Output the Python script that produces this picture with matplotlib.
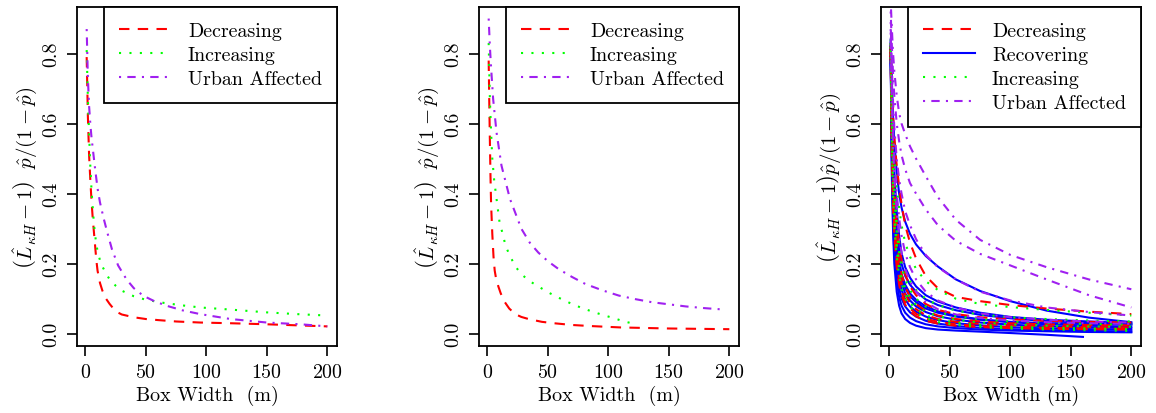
import matplotlib
matplotlib.use("Agg")
import matplotlib.pyplot as plt

plt.rcParams['font.family'] = ['cmr10', 'DejaVu Serif']
plt.rcParams['mathtext.fontset'] = 'cm'
plt.rcParams['axes.formatter.use_mathtext'] = True
plt.rcParams['font.size'] = 14

# panel 1
dec1_x = [1, 2, 3, 4, 5, 6, 7, 8, 9, 10, 12, 14, 17, 20, 25, 30, 40, 50, 60, 75, 95, 120, 150, 175, 200]
dec1_y = [0.79, 0.62, 0.51, 0.44, 0.38, 0.33, 0.29, 0.25, 0.21, 0.18, 0.145, 0.123, 0.10, 0.085, 0.064,
          0.055, 0.047, 0.042, 0.039, 0.035, 0.032, 0.030, 0.027, 0.024, 0.021]
inc1_x = [1, 2, 3, 4, 5, 6, 7, 8, 10, 12, 14, 17, 20, 25, 30, 40, 50, 65, 80, 95, 120, 150, 175, 200]
inc1_y = [0.81, 0.67, 0.57, 0.48, 0.41, 0.36, 0.315, 0.28, 0.235, 0.21, 0.192, 0.172, 0.155, 0.137, 0.123,
          0.107, 0.097, 0.088, 0.081, 0.075, 0.069, 0.061, 0.056, 0.052]
urb1_x = [1, 2, 3, 4, 5, 6, 8, 10, 12, 15, 18, 22, 27, 34, 40, 48, 57, 67, 80, 95, 120, 150, 178, 200]
urb1_y = [0.87, 0.73, 0.65, 0.60, 0.56, 0.53, 0.47, 0.415, 0.375, 0.33, 0.29, 0.24, 0.195, 0.155, 0.13,
          0.108, 0.093, 0.080, 0.067, 0.056, 0.042, 0.032, 0.027, 0.021]

# panel 2
dec2_x = [1, 1.5, 2, 2.5, 3, 4, 5, 6, 7, 9, 11, 14, 18, 23, 28, 34, 45, 55, 70, 85, 110, 150, 200]
dec2_y = [0.78, 0.66, 0.55, 0.45, 0.37, 0.285, 0.22, 0.18, 0.16, 0.135, 0.115, 0.092, 0.072, 0.056, 0.048,
          0.042, 0.034, 0.030, 0.025, 0.022, 0.018, 0.015, 0.013]
inc2_x = [1, 2, 3, 4, 5.5, 7.5, 10, 13, 15, 18.6, 22.7, 28, 35, 43.5, 52, 60, 68, 77, 86, 95, 104, 113, 122]
inc2_y = [0.83, 0.67, 0.575, 0.50, 0.44, 0.385, 0.318, 0.28, 0.25, 0.223, 0.194, 0.17, 0.15, 0.132, 0.115,
          0.101, 0.088, 0.075, 0.064, 0.054, 0.045, 0.035, 0.028]
urb2_x = [1, 2, 3, 4.7, 7.5, 11.6, 18.6, 28, 35, 42, 50, 58.7, 70, 81, 95, 108.6, 122, 136, 150, 164, 180, 196]
urb2_y = [0.90, 0.82, 0.76, 0.67, 0.575, 0.48, 0.385, 0.30, 0.26, 0.232, 0.207, 0.185, 0.162, 0.142, 0.124,
          0.109, 0.099, 0.09, 0.084, 0.078, 0.073, 0.069]

# panel 3
x3 = [1, 2, 3, 4, 6, 8, 10, 13, 17, 22, 30, 40, 55, 75, 100, 130, 165, 200]
rec3 = [
    [0.84, 0.72, 0.62, 0.55, 0.46, 0.40, 0.36, 0.32, 0.285, 0.255, 0.222, 0.192, 0.155, 0.122, 0.093, 0.066, 0.046, 0.033],
    [0.83, 0.66, 0.54, 0.46, 0.35, 0.28, 0.23, 0.19, 0.16, 0.135, 0.11, 0.092, 0.075, 0.060, 0.048, 0.040, 0.035, 0.030],
    [0.82, 0.62, 0.50, 0.41, 0.30, 0.24, 0.20, 0.165, 0.14, 0.12, 0.098, 0.082, 0.067, 0.054, 0.044, 0.036, 0.031, 0.027],
    [0.82, 0.58, 0.45, 0.36, 0.26, 0.20, 0.16, 0.13, 0.107, 0.09, 0.072, 0.060, 0.049, 0.040, 0.034, 0.030, 0.028, 0.026],
    [0.82, 0.60, 0.47, 0.38, 0.27, 0.21, 0.17, 0.14, 0.115, 0.097, 0.078, 0.064, 0.051, 0.041, 0.033, 0.027, 0.023, 0.020],
    [0.81, 0.57, 0.43, 0.34, 0.24, 0.18, 0.145, 0.115, 0.095, 0.078, 0.062, 0.050, 0.040, 0.032, 0.026, 0.021, 0.018, 0.016],
    [0.81, 0.54, 0.40, 0.31, 0.21, 0.16, 0.125, 0.098, 0.078, 0.063, 0.049, 0.039, 0.030, 0.024, 0.019, 0.015, 0.013, 0.011],
    [0.80, 0.50, 0.36, 0.27, 0.18, 0.13, 0.10, 0.078, 0.061, 0.049, 0.037, 0.029, 0.022, 0.017, 0.013, 0.010, 0.008, 0.006],
    [0.80, 0.47, 0.32, 0.23, 0.15, 0.105, 0.08, 0.06, 0.046, 0.036, 0.027, 0.021, 0.016, 0.012, 0.009, 0.007, 0.005, 0.004],
]
rec3_short_x = [1, 2, 3, 4, 6, 8, 10, 13, 17, 22, 30, 40, 55, 75, 100, 130, 160]
rec3_short_y = [0.79, 0.44, 0.29, 0.20, 0.12, 0.08, 0.058, 0.042, 0.031, 0.023, 0.016, 0.012, 0.009, 0.006, 0.002, -0.003, -0.009]
dec3 = [
    [0.83, 0.70, 0.62, 0.56, 0.48, 0.42, 0.37, 0.31, 0.26, 0.215, 0.165, 0.13, 0.105, 0.093, 0.082, 0.072, 0.063, 0.056],
    [0.82, 0.62, 0.50, 0.42, 0.32, 0.26, 0.21, 0.17, 0.135, 0.11, 0.085, 0.068, 0.056, 0.047, 0.041, 0.037, 0.034, 0.032],
    [0.82, 0.58, 0.45, 0.37, 0.27, 0.21, 0.17, 0.135, 0.105, 0.085, 0.065, 0.052, 0.042, 0.035, 0.030, 0.027, 0.025, 0.024],
    [0.81, 0.55, 0.41, 0.33, 0.24, 0.18, 0.145, 0.112, 0.088, 0.07, 0.053, 0.042, 0.034, 0.028, 0.024, 0.021, 0.019, 0.018],
    [0.81, 0.52, 0.38, 0.30, 0.21, 0.155, 0.12, 0.092, 0.072, 0.057, 0.043, 0.034, 0.027, 0.022, 0.019, 0.017, 0.015, 0.014],
    [0.80, 0.50, 0.36, 0.28, 0.19, 0.14, 0.11, 0.083, 0.064, 0.05, 0.037, 0.029, 0.023, 0.019, 0.016, 0.014, 0.013, 0.012],
]
inc3 = [
    [0.84, 0.68, 0.58, 0.51, 0.42, 0.36, 0.31, 0.26, 0.22, 0.185, 0.15, 0.125, 0.10, 0.085, 0.076, 0.068, 0.060, 0.052],
    [0.83, 0.62, 0.50, 0.42, 0.32, 0.26, 0.22, 0.18, 0.15, 0.125, 0.10, 0.082, 0.066, 0.055, 0.047, 0.042, 0.038, 0.035],
    [0.83, 0.60, 0.47, 0.39, 0.29, 0.23, 0.19, 0.155, 0.125, 0.10, 0.078, 0.062, 0.05, 0.041, 0.035, 0.031, 0.028, 0.026],
    [0.82, 0.57, 0.44, 0.36, 0.26, 0.20, 0.16, 0.13, 0.103, 0.082, 0.063, 0.05, 0.040, 0.032, 0.027, 0.023, 0.021, 0.020],
    [0.82, 0.55, 0.42, 0.33, 0.24, 0.18, 0.145, 0.113, 0.088, 0.07, 0.053, 0.041, 0.032, 0.025, 0.020, 0.017, 0.015, 0.013],
    [0.81, 0.53, 0.40, 0.31, 0.22, 0.165, 0.13, 0.10, 0.077, 0.06, 0.044, 0.033, 0.025, 0.019, 0.015, 0.012, 0.010, 0.008],
]
urb3 = [
    [0.95, 0.87, 0.80, 0.75, 0.68, 0.63, 0.60, 0.57, 0.535, 0.50, 0.45, 0.39, 0.325, 0.268, 0.225, 0.19, 0.155, 0.127],
    [0.92, 0.82, 0.74, 0.68, 0.60, 0.55, 0.51, 0.47, 0.43, 0.40, 0.355, 0.31, 0.265, 0.228, 0.195, 0.155, 0.11, 0.075],
    [0.89, 0.76, 0.66, 0.59, 0.50, 0.44, 0.40, 0.35, 0.31, 0.27, 0.225, 0.19, 0.155, 0.12, 0.095, 0.075, 0.062, 0.052],
    [0.87, 0.70, 0.58, 0.50, 0.40, 0.33, 0.28, 0.23, 0.19, 0.155, 0.12, 0.095, 0.075, 0.058, 0.047, 0.040, 0.035, 0.032],
    [0.86, 0.66, 0.54, 0.45, 0.35, 0.28, 0.23, 0.185, 0.15, 0.12, 0.09, 0.07, 0.055, 0.045, 0.038, 0.033, 0.030, 0.028],
]

RED = '#FF0000'
GREEN = '#00FF00'
BLUE = '#0000FF'
PURPLE = '#A020F0'
LW = 1.5
st_dec = dict(color=RED, lw=LW, dashes=(5, 4))
st_inc = dict(color=GREEN, lw=LW, dashes=(1, 4))
st_urb = dict(color=PURPLE, lw=LW, dashes=(1, 3, 4, 3))
st_rec = dict(color=BLUE, lw=LW, linestyle='-')

W, H = 1156, 414
FS = 14.4
fig = plt.figure(figsize=(W / 100, H / 100), dpi=100)

ylab12 = r'$\left(\hat{L}_{\kappa H}-1\right)\ \ \hat{p}/(1-\hat{p})$'
ylab3 = r'$\left(\hat{L}_{\kappa H}-1\right)\hat{p}/(1-\hat{p})$'


def setup(left, ylab, xlab):
    ax = fig.add_axes([left / W, (H - 347) / H, 260 / W, 339 / H])
    ax.set_xlim(-7, 208)
    ax.set_ylim(-0.035, 0.933)
    ax.set_xticks([0, 50, 100, 150, 200])
    ax.set_yticks([0.0, 0.2, 0.4, 0.6, 0.8])
    ax.set_yticklabels(['0.0', '0.2', '0.4', '0.6', '0.8'], rotation=90, va='center')
    ax.tick_params(direction='out', length=7, width=1.2, pad=5, labelsize=FS)
    for s in ax.spines.values():
        s.set_linewidth(1.3)
    ax.set_xlabel(xlab, fontsize=FS, va='center')
    ax.xaxis.set_label_coords(0.5, -49 / 339)
    ax.set_ylabel(ylab, fontsize=15, ha='center', va='center')
    ax.yaxis.set_label_coords(-52 / 260, 0.5)
    return ax


def add_legend(ax, labels_handles):
    hs = [h for _, h in labels_handles]
    ls = [l for l, _ in labels_handles]
    leg = ax.legend(hs, ls, loc='upper right', borderaxespad=0, fancybox=False,
                    framealpha=1, edgecolor='black', fontsize=FS, handlelength=2.6,
                    handletextpad=0.85, labelspacing=0.3, borderpad=0.75)
    leg.get_frame().set_linewidth(1.3)


ax1 = setup(77, ylab12, 'Box Width  (m)')
h_dec, = ax1.plot(dec1_x, dec1_y, **st_dec)
h_inc, = ax1.plot(inc1_x, inc1_y, **st_inc)
h_urb, = ax1.plot(urb1_x, urb1_y, **st_urb)
add_legend(ax1, [('Decreasing', h_dec), ('Increasing', h_inc), ('Urban Affected', h_urb)])

ax2 = setup(479, ylab12, 'Box Width  (m)')
h_dec, = ax2.plot(dec2_x, dec2_y, **st_dec)
h_inc, = ax2.plot(inc2_x, inc2_y, **st_inc)
h_urb, = ax2.plot(urb2_x, urb2_y, **st_urb)
add_legend(ax2, [('Decreasing', h_dec), ('Increasing', h_inc), ('Urban Affected', h_urb)])

ax3 = setup(881, ylab3, 'Box Width (m)')
for y in rec3:
    h_rec, = ax3.plot(x3, y, **st_rec)
ax3.plot(rec3_short_x, rec3_short_y, **st_rec)
for y in dec3:
    h_dec, = ax3.plot(x3, y, **st_dec)
for y in inc3:
    h_inc, = ax3.plot(x3, y, **st_inc)
for y in urb3:
    h_urb, = ax3.plot(x3, y, **st_urb)
add_legend(ax3, [('Decreasing', h_dec), ('Recovering', h_rec), ('Increasing', h_inc),
                 ('Urban Affected', h_urb)])

fig.savefig('out.png', dpi=100)
